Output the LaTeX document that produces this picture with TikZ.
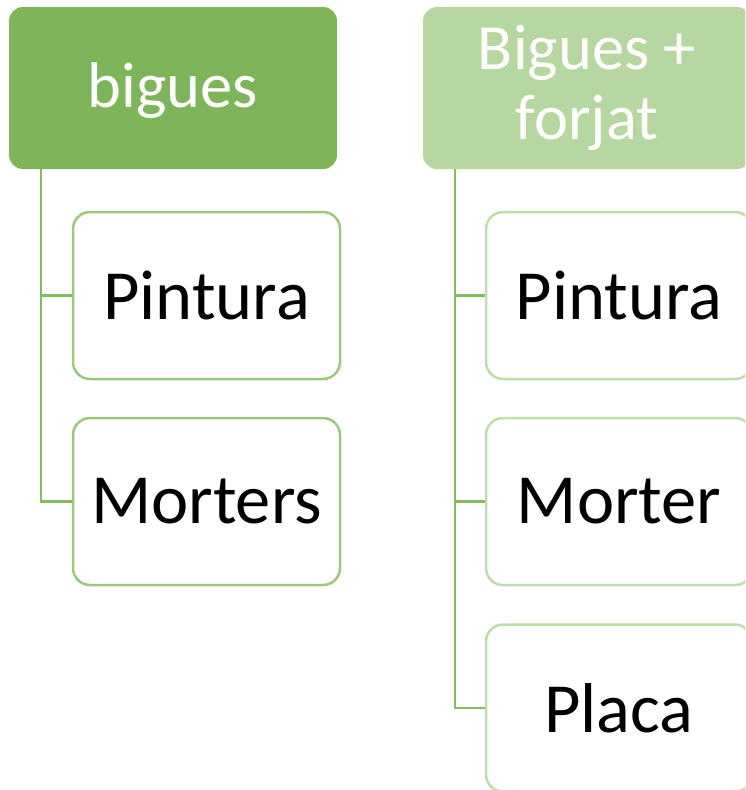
\documentclass[tikz,border=0pt]{standalone}
\usepackage{fontspec}
\setmainfont{Carlito}
\definecolor{hdA}{RGB}{126,181,90}
\definecolor{hdB}{RGB}{182,214,162}
\definecolor{bdA}{RGB}{155,200,125}
\definecolor{bdB}{RGB}{190,221,171}
\definecolor{lnA}{RGB}{132,186,98}
\begin{document}
\begin{tikzpicture}[x=1pt,y=-1pt,
  header/.style={rounded corners=14pt, minimum width=328pt, minimum height=162pt, text=white, align=center, inner sep=0pt, font=\fontsize{64.5}{70}\selectfont},
  child/.style={draw, line width=2.5pt, rounded corners=17pt, fill=white, minimum width=267pt, minimum height=167pt, inner sep=0pt, font=\fontsize{70.5}{76}\selectfont},
  conn/.style={draw=lnA, line width=2.8pt}]
\useasboundingbox (0,0) rectangle (745,790);
\clip (0,0) rectangle (745,790);
% left column
\node[header, fill=hdA] (h1) at (173,88) {\raisebox{-3pt}[\height][\depth]{bigues}};
\node[child, draw=bdA] (c1) at (206.5,295.5) {Pintura};
\node[child, draw=bdA] (c2) at (206.5,501.5) {Morters};
% right column
\node[header, fill=hdB] (h2) at (587,88) {Bigues +\\forjat};
\node[child, draw=bdB, minimum width=266pt] (d1) at (619,295.5) {Pintura};
\node[child, draw=bdB, minimum width=266pt] (d2) at (619,501.5) {Morter};
\node[child, draw=bdB, minimum width=266pt] (d3) at (619,708) {Placa};
% connectors
\coordinate (t1) at (41,169);
\coordinate (t2) at (455,169);
\draw[conn] (t1) |- (c1.west);
\draw[conn] (t1) |- (c2.west);
\draw[conn] (t2) |- (d1.west);
\draw[conn] (t2) |- (d2.west);
\draw[conn] (t2) |- (d3.west);
\end{tikzpicture}
\end{document}
